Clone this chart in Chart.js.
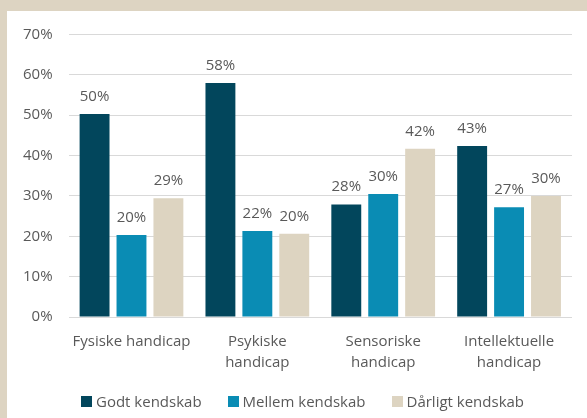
<!DOCTYPE html>
<html>
<head>
<meta charset="utf-8">
<script src="https://cdn.jsdelivr.net/npm/chart.js@4"></script>
<style>
    html, body { margin: 0; padding: 0; }
    body { width: 587px; height: 418px; background: #ddd4c2; overflow: hidden; font-family: "Open Sans", sans-serif; }
    #box { position: absolute; left: 7px; top: 11px; width: 580px; height: 407px; background: #ffffff; }
    #chart { position: absolute; left: 0; top: 0; }
    #legend { position: absolute; left: 74px; top: 380px; display: flex; align-items: center; color: #595959; font-size: 15px; line-height: 20px; }
    .item { display: flex; align-items: center; margin-right: 26px; white-space: nowrap; }
    .swatch { width: 11px; height: 11px; margin-right: 4px; }
</style>
</head>
<body>
<div id="box">
    <canvas id="chart" width="580" height="407"></canvas>
    <div id="legend"></div>
</div>
<script>
const categories = [["Fysiske handicap"], ["Psykiske", "handicap"], ["Sensoriske", "handicap"], ["Intellektuelle", "handicap"]];
const seriesNames = ["Godt kendskab", "Mellem kendskab", "Dårligt kendskab"];
const godt = [50.3, 58.0, 27.9, 42.4];
const mellem = [20.3, 21.3, 30.5, 27.2];
const daarligt = [29.4, 20.6, 41.7, 30.0];
const labelsGodt = ["50%", "58%", "28%", "43%"];
const labelsMellem = ["20%", "22%", "30%", "27%"];
const labelsDaarligt = ["29%", "20%", "42%", "30%"];
const colors = ["#02465c", "#0a8cb4", "#ddd4c1"];

const textColor = "#595959";
const font = "Open Sans";

// value labels above each bar
const barLabels = {
    id: "barLabels",
    afterDatasetsDraw(chart) {
        const ctx = chart.ctx;
        const texts = [labelsGodt, labelsMellem, labelsDaarligt];
        ctx.save();
        ctx.font = "15px '" + font + "'";
        ctx.fillStyle = textColor;
        ctx.textAlign = "center";
        ctx.textBaseline = "alphabetic";
        chart.data.datasets.forEach((ds, i) => {
            chart.getDatasetMeta(i).data.forEach((bar, j) => {
                ctx.fillText(texts[i][j], bar.x, bar.y - 13);
            });
        });
        ctx.restore();
    }
};

new Chart(document.getElementById("chart"), {
    type: "bar",
    data: {
        labels: categories,
        datasets: [
            { label: seriesNames[0], data: godt, backgroundColor: colors[0] },
            { label: seriesNames[1], data: mellem, backgroundColor: colors[1] },
            { label: seriesNames[2], data: daarligt, backgroundColor: colors[2] }
        ]
    },
    options: {
        responsive: false,
        animation: false,
        categoryPercentage: 0.88,
        barPercentage: 0.81,
        layout: { padding: { top: 0, right: 15, left: 0, bottom: 39 } },
        scales: {
            x: {
                grid: { display: false },
                border: { display: false },
                ticks: { color: textColor, font: { family: font, size: 15, lineHeight: 1.4 }, padding: 6, maxRotation: 0 }
            },
            y: {
                min: 0,
                max: 70,
                ticks: { stepSize: 10, color: textColor, font: { family: font, size: 15, lineHeight: 1.0 }, padding: 16, callback: v => v + "%" },
                grid: { color: "#d9d9d9", drawTicks: false },
                border: { display: false }
            }
        },
        plugins: {
            legend: { display: false },
            tooltip: { enabled: false }
        }
    },
    plugins: [barLabels]
});

// legend below the chart
const legend = document.getElementById("legend");
seriesNames.forEach((name, i) => {
    const item = document.createElement("div");
    item.className = "item";
    item.innerHTML = `<span class="swatch" style="background:${colors[i]}"></span><span>${name}</span>`;
    legend.appendChild(item);
});
</script>
</body>
</html>
